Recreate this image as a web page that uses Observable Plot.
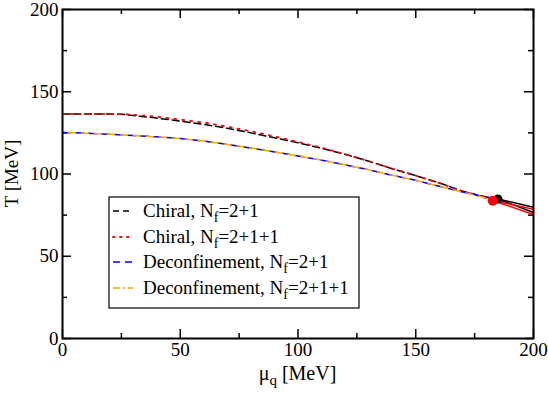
<!DOCTYPE html>
<html>
<head>
<meta charset="utf-8">
<script src="https://cdn.jsdelivr.net/npm/d3@7"></script>
<script src="https://cdn.jsdelivr.net/npm/@observablehq/plot@0.6"></script>
<style>
  html, body { margin: 0; padding: 0; background: #fff; }
  #chart { width: 548px; height: 394px; }
</style>
</head>
<body>
<div id="chart"></div>
<script>
// ---- data ----
const muChiral21 = [0, 10, 20, 25, 30, 40, 50, 60, 70, 80, 90, 100, 110, 120, 130, 140, 150, 160, 170, 180, 184.9];
const tChiral21  = [136.5, 136.5, 136.5, 136.3, 135.6, 134, 132.2, 130.2, 127.8, 125, 122, 119, 115.6, 112, 107.8, 103.2, 99, 94.6, 89.5, 86, 84.8];

const muChiral211 = [0, 10, 20, 25, 30, 40, 50, 60, 70, 80, 90, 100, 110, 120, 130, 140, 150, 160, 170, 180, 182.7];
const tChiral211  = [136.5, 136.5, 136.5, 136.4, 136, 134.8, 133, 131.3, 128.8, 126, 122.8, 119.5, 116, 112, 107.8, 103.3, 99, 94.5, 89.5, 85.3, 83.8];

const muDeconf21 = [0, 10, 20, 30, 40, 50, 60, 70, 80, 90, 100, 110, 120, 130, 140, 150, 160, 170, 180, 184.9];
const tDeconf21  = [125.3, 124.8, 124.1, 123.4, 122.6, 121.6, 120, 118, 115.8, 113.4, 111, 108.4, 105.6, 102.6, 99.2, 96.2, 92.5, 89, 85.8, 84.8];

const muDeconf211 = [0, 10, 20, 30, 40, 50, 60, 70, 80, 90, 100, 110, 120, 130, 140, 150, 160, 170, 180, 182.7];
const tDeconf211  = [125.3, 124.8, 124.1, 123.4, 122.6, 121.6, 120, 118, 115.8, 113.4, 111, 108.4, 105.6, 102.6, 99.2, 96.2, 92.5, 89, 85.5, 83.8];

// critical end points
const cepMu = [184.9, 182.7];
const cepT  = [84.8, 83.8];
const cepSeries = ["Nf=2+1", "Nf=2+1+1"];

// first-order transition lines beyond the CEP
const foMuStart = [184.9, 184.9, 182.7, 182.7];
const foTStart  = [84.8, 84.8, 83.8, 83.8];
const foMuEnd   = [200, 200, 200, 200];
const foTEnd    = [79.8, 76.6, 78.6, 75.4];
const foSeries  = ["Nf=2+1", "Nf=2+1", "Nf=2+1+1", "Nf=2+1+1"];

const xMajor = [0, 50, 100, 150, 200];
const xMinor = [25, 75, 125, 175];
const yMajor = [0, 50, 100, 150, 200];
const yMinor = [25, 75, 125, 175];

const legendLabels = [
  ["Chiral, N", "f", "=2+1"],
  ["Chiral, N", "f", "=2+1+1"],
  ["Deconfinement, N", "f", "=2+1"],
  ["Deconfinement, N", "f", "=2+1+1"]
];

// ---- build tables ----
const toRows = (mu, t) => mu.map((m, i) => ({mu: m, T: t[i]}));
const chiral21 = toRows(muChiral21, tChiral21);
const chiral211 = toRows(muChiral211, tChiral211);
const deconf21 = toRows(muDeconf21, tDeconf21);
const deconf211 = toRows(muDeconf211, tDeconf211);
const cep = cepMu.map((m, i) => ({mu: m, T: cepT[i], s: cepSeries[i]}));
const fo = foMuStart.map((m, i) => ({x1: m, y1: foTStart[i], x2: foMuEnd[i], y2: foTEnd[i], s: foSeries[i]}));

// ---- layout ----
const W = 548, H = 394;
const mL = 62, mR = 15, mT = 9, mB = 56;
const pw = W - mL - mR, ph = H - mT - mB;
const FONT = "Liberation Serif, Times New Roman, DejaVu Serif, serif";

const colFO = {"Nf=2+1": "#000000", "Nf=2+1+1": "#ff0000"};

const chart = Plot.plot({
  width: W, height: H,
  marginLeft: mL, marginRight: mR, marginTop: mT, marginBottom: mB,
  style: {fontFamily: FONT, fontSize: "19px", color: "#000", background: "#fff"},
  x: {domain: [0, 200]},
  y: {domain: [0, 200]},
  marks: [
    // tick labels
    Plot.axisX(xMajor, {tickSize: 0, tickPadding: 4, label: null, fontSize: 19, tickFormat: d => String(d)}),
    Plot.axisY(yMajor, {tickSize: 0, tickPadding: 4, label: null, fontSize: 19, tickFormat: d => String(d)}),
    // inward ticks, all four sides
    Plot.tickX(xMajor, {x: d => d, insetTop: ph - 9, stroke: "#000", strokeWidth: 1.5}),
    Plot.tickX(xMajor, {x: d => d, insetBottom: ph - 9, stroke: "#000", strokeWidth: 1.5}),
    Plot.tickX(xMinor, {x: d => d, insetTop: ph - 5, stroke: "#000", strokeWidth: 1.5}),
    Plot.tickX(xMinor, {x: d => d, insetBottom: ph - 5, stroke: "#000", strokeWidth: 1.5}),
    Plot.tickY(yMajor, {y: d => d, insetRight: pw - 9, stroke: "#000", strokeWidth: 1.5}),
    Plot.tickY(yMajor, {y: d => d, insetLeft: pw - 9, stroke: "#000", strokeWidth: 1.5}),
    Plot.tickY(yMinor, {y: d => d, insetRight: pw - 5, stroke: "#000", strokeWidth: 1.5}),
    Plot.tickY(yMinor, {y: d => d, insetLeft: pw - 5, stroke: "#000", strokeWidth: 1.5}),
    // first-order lines
    Plot.link(fo, {x1: "x1", y1: "y1", x2: "x2", y2: "y2", stroke: d => colFO[d.s], strokeWidth: 1.5}),
    // crossover lines
    Plot.line(chiral21, {x: "mu", y: "T", stroke: "#000", strokeWidth: 1.5, strokeDasharray: "7,4"}),
    Plot.line(chiral211, {x: "mu", y: "T", stroke: "#ff0000", strokeWidth: 1.8, strokeDasharray: "2,6", strokeLinecap: "round"}),
    Plot.line(deconf21, {x: "mu", y: "T", stroke: "#0000ff", strokeWidth: 1.5, strokeDasharray: "8,5"}),
    Plot.line(deconf211, {x: "mu", y: "T", stroke: "#ffa500", strokeWidth: 1.5, strokeDasharray: "7,6", strokeDashoffset: 7}),
    // critical end points
    Plot.dot(cep.filter(d => d.s === "Nf=2+1"), {x: "mu", y: "T", r: 4.5, fill: "#000", stroke: "none"}),
    Plot.dot(cep.filter(d => d.s === "Nf=2+1+1"), {x: "mu", y: "T", r: 5, fill: "#ff0000", stroke: "none"}),
    Plot.frame({stroke: "#000", strokeWidth: 2})
  ]
});

document.getElementById("chart").appendChild(chart);

// ---- axis titles with subscripts ----
const svg = d3.select(chart);
const xs = chart.scale("x"), ys = chart.scale("y");
const xt = svg.append("text")
  .attr("x", (xs.apply(0) + xs.apply(200)) / 2)
  .attr("y", 380)
  .style("text-anchor", "middle")
  .style("font-family", FONT).style("font-size", "20px").style("fill", "#000");
xt.append("tspan").text("μ");
xt.append("tspan").attr("dy", 5).style("font-size", "15px").text("q");
xt.append("tspan").attr("dy", -5).text(" [MeV]");

svg.append("text")
  .attr("transform", `translate(18, ${(ys.apply(0) + ys.apply(200)) / 2}) rotate(-90)`)
  .style("text-anchor", "middle")
  .style("font-family", FONT).style("font-size", "19px").style("fill", "#000")
  .text("T [MeV]");

// ---- legend ----
const lg = svg.append("g");
lg.append("rect").attr("x", 109).attr("y", 197).attr("width", 250).attr("height", 111)
  .attr("fill", "#fff").attr("stroke", "#000").attr("stroke-width", 1.2);
const legStyles = [
  {stroke: "#000", dash: "6,4", w: 1.5, cap: "butt"},
  {stroke: "#ff0000", dash: "1.5,5.5", w: 1.8, cap: "round"},
  {stroke: "#0000ff", dash: "7,5", w: 1.5, cap: "butt"},
  {stroke: "#ffa500", dash: "7,3,2,3", w: 1.5, cap: "butt"}
];
const rowY = [211, 237, 262, 288];
legendLabels.forEach((lab, i) => {
  const st = legStyles[i];
  lg.append("line").attr("x1", 113).attr("x2", 133).attr("y1", rowY[i]).attr("y2", rowY[i])
    .attr("stroke", st.stroke).attr("stroke-width", st.w).attr("stroke-dasharray", st.dash)
    .attr("stroke-linecap", st.cap);
  const t = lg.append("text").attr("x", 143).attr("y", rowY[i] + 6)
    .style("text-anchor", "start")
    .style("font-family", FONT).style("font-size", "19px").style("fill", "#000");
  t.append("tspan").text(lab[0]);
  t.append("tspan").attr("dy", 5).style("font-size", "14px").text(lab[1]);
  t.append("tspan").attr("dy", -5).text(lab[2]);
});
</script>
</body>
</html>
